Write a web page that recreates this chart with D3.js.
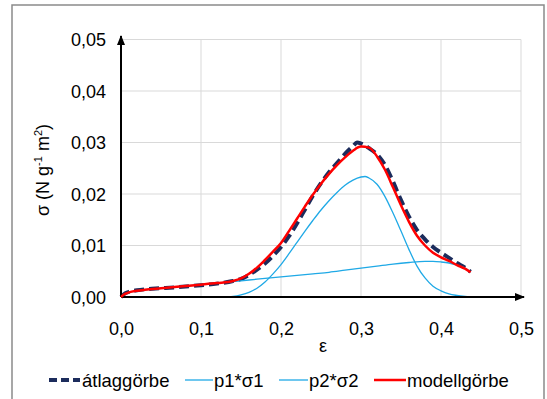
<!DOCTYPE html>
<html><head><meta charset="utf-8">
<script src="https://cdn.jsdelivr.net/npm/d3@7"></script>
<style>
html,body{margin:0;padding:0;background:#fff;}
svg text{font-family:"Liberation Sans",Arial,sans-serif;fill:#000;}
</style></head>
<body>
<svg id="chart" width="547" height="399"></svg>
<script>
// ---- data ----
const xTicks = [0, 0.1, 0.2, 0.3, 0.4, 0.5];
const xTickLabels = ["0,0", "0,1", "0,2", "0,3", "0,4", "0,5"];
const yTicks = [0, 0.01, 0.02, 0.03, 0.04, 0.05];
const yTickLabels = ["0,00", "0,01", "0,02", "0,03", "0,04", "0,05"];
const seriesNames = ["átlaggörbe", "p1*σ1", "p2*σ2", "modellgörbe"];

const epsAvg = [0,0.005,0.01,0.02,0.03,0.05,0.07,0.10,0.12,0.14,0.15,0.16,0.17,0.18,0.19,0.20,0.21,0.22,0.23,0.24,0.25,0.26,0.27,0.28,0.29,0.295,0.30,0.31,0.32,0.33,0.34,0.35,0.36,0.37,0.38,0.39,0.40,0.41,0.42,0.43,0.437];
const avgVals = [0,0.0007,0.0010,0.0013,0.0015,0.0017,0.0019,0.0023,0.0026,0.0031,0.0035,0.0043,0.0053,0.0065,0.0080,0.0097,0.0118,0.0143,0.0170,0.0197,0.0221,0.0242,0.0260,0.0278,0.0293,0.0300,0.0298,0.0289,0.0277,0.0256,0.0224,0.0188,0.0156,0.0130,0.0112,0.0097,0.0086,0.0076,0.0066,0.0057,0.0049];

const epsP1 = [0,0.005,0.01,0.02,0.03,0.05,0.07,0.10,0.12,0.14,0.16,0.18,0.20,0.22,0.24,0.26,0.28,0.30,0.32,0.34,0.36,0.38,0.39,0.40,0.41,0.42,0.43,0.437];
const p1Vals = [0,0.0006,0.0009,0.0012,0.0014,0.0017,0.0020,0.0024,0.0027,0.0030,0.0033,0.0036,0.0039,0.0042,0.0045,0.0048,0.0052,0.0056,0.0060,0.0064,0.0067,0.0069,0.0069,0.0068,0.0066,0.0062,0.0056,0.0048];

const epsP2 = [0,0.13,0.14,0.15,0.16,0.17,0.18,0.19,0.20,0.21,0.22,0.23,0.24,0.25,0.26,0.27,0.28,0.29,0.30,0.305,0.31,0.32,0.33,0.34,0.35,0.36,0.37,0.38,0.39,0.40,0.41,0.42,0.43,0.437];
const p2Vals = [0,0,0.0001,0.0004,0.0009,0.0017,0.0029,0.0045,0.0063,0.0084,0.0106,0.0128,0.0149,0.0169,0.0187,0.0203,0.0217,0.0227,0.0233,0.0234,0.0231,0.0219,0.0195,0.0163,0.0128,0.0092,0.0060,0.0037,0.0021,0.0012,0.0006,0.0003,0.0001,0];

const epsModel = [0,0.005,0.01,0.02,0.03,0.05,0.07,0.10,0.12,0.14,0.15,0.16,0.17,0.18,0.19,0.20,0.21,0.22,0.23,0.24,0.25,0.26,0.27,0.28,0.29,0.30,0.31,0.32,0.33,0.34,0.35,0.36,0.37,0.38,0.39,0.40,0.41,0.42,0.43,0.437];
const modelVals = [0,0.0006,0.0009,0.0012,0.0014,0.0017,0.0020,0.0024,0.0027,0.0031,0.0036,0.0045,0.0057,0.0072,0.0088,0.0105,0.0128,0.0152,0.0176,0.0199,0.0220,0.0239,0.0256,0.0271,0.0284,0.0292,0.0290,0.0273,0.0247,0.0213,0.0178,0.0146,0.0119,0.0100,0.0086,0.0077,0.0070,0.0062,0.0055,0.0048];

// ---- layout ----
const svg = d3.select("#chart");
const FONT = "Liberation Sans, Arial, sans-serif";
const x = d3.scaleLinear().domain([0, 0.5]).range([121, 521]);
const y = d3.scaleLinear().domain([0, 0.05]).range([297, 39.5]);

// outer border
svg.append("rect").attr("x", 12).attr("y", 5).attr("width", 532).attr("height", 400)
  .attr("fill", "none").attr("stroke", "#8a8a8a").attr("stroke-width", 1.5);

// gridlines
const grid = svg.append("g");
grid.selectAll("line.h").data(yTicks.slice(1)).enter().append("line")
  .attr("x1", x(0)).attr("x2", x(0.5)).attr("y1", d => y(d)).attr("y2", d => y(d))
  .attr("stroke", "#d9d9d9").attr("stroke-width", 1);
grid.selectAll("line.v").data(xTicks.slice(1)).enter().append("line")
  .attr("x1", d => x(d)).attr("x2", d => x(d)).attr("y1", y(0)).attr("y2", y(0.05))
  .attr("stroke", "#d9d9d9").attr("stroke-width", 1);

// tick labels via axes
const xAxis = d3.axisBottom(x).tickValues(xTicks).tickSize(0).tickPadding(0)
  .tickFormat((d, i) => xTickLabels[i]);
const gx = svg.append("g").attr("transform", `translate(0,${y(0)})`).call(xAxis);
gx.select(".domain").remove();
gx.selectAll("text").attr("font-size", 18).attr("dy", null).attr("y", 38)
  .attr("font-family", FONT).attr("fill", "#000");

const yAxis = d3.axisLeft(y).tickValues(yTicks).tickSize(0).tickPadding(0)
  .tickFormat((d, i) => yTickLabels[i]);
const gy = svg.append("g").attr("transform", `translate(${x(0)},0)`).call(yAxis);
gy.select(".domain").remove();
gy.selectAll("text").attr("font-size", 18).attr("x", -15).attr("dy", "0.35em")
  .attr("font-family", FONT).attr("fill", "#000");

// axis titles
svg.append("text").attr("x", 323).attr("y", 352).attr("text-anchor", "middle")
  .attr("font-size", 18).text("ε");
const yt = svg.append("text").attr("transform", "translate(49,170) rotate(-90)")
  .attr("text-anchor", "middle").attr("font-size", 18);
yt.append("tspan").text("σ (N g");
yt.append("tspan").attr("font-size", 11).attr("dy", -7).text("-1");
yt.append("tspan").attr("dy", 7).text(" m");
yt.append("tspan").attr("font-size", 11).attr("dy", -7).text("2");
yt.append("tspan").attr("dy", 7).text(")");

// arrow marker
const defs = svg.append("defs");
defs.append("marker").attr("id", "arr").attr("viewBox", "0 0 10 10")
  .attr("refX", 9).attr("refY", 5).attr("markerWidth", 5).attr("markerHeight", 5)
  .attr("markerUnits", "strokeWidth").attr("orient", "auto")
  .append("path").attr("d", "M0,1 L10,5 L0,9 Z").attr("fill", "#000");

const mk = (xs, vs) => xs.map((e, i) => [e, vs[i]]);
const line = d3.line().x(d => x(d[0])).y(d => y(d[1])).curve(d3.curveMonotoneX);

const C_AVG = "#1c2c5c", C_BLUE = "#1fa9e6", C_RED = "#ff0000";

svg.append("path").datum(mk(epsAvg, avgVals)).attr("d", line)
  .attr("fill", "none").attr("stroke", C_AVG).attr("stroke-width", 4)
  .attr("stroke-dasharray", "10,5");
svg.append("path").datum(mk(epsP1, p1Vals)).attr("d", line)
  .attr("fill", "none").attr("stroke", C_BLUE).attr("stroke-width", 1.3);
svg.append("path").datum(mk(epsP2, p2Vals)).attr("d", line)
  .attr("fill", "none").attr("stroke", C_BLUE).attr("stroke-width", 1.3);

// axes with arrows
svg.append("line").attr("x1", x(0)).attr("y1", y(0)).attr("x2", 524).attr("y2", y(0))
  .attr("stroke", "#000").attr("stroke-width", 2).attr("marker-end", "url(#arr)");
svg.append("line").attr("x1", x(0)).attr("y1", y(0)).attr("x2", x(0)).attr("y2", 36)
  .attr("stroke", "#000").attr("stroke-width", 2).attr("marker-end", "url(#arr)");

svg.append("path").datum(mk(epsModel, modelVals)).attr("d", line)
  .attr("fill", "none").attr("stroke", C_RED).attr("stroke-width", 2.5);

// legend
const legend = [
  {name: seriesNames[0], color: C_AVG, w: 4, dash: "8,4", x1: 49, x2: 80, tx: 82},
  {name: seriesNames[1], color: C_BLUE, w: 1.3, dash: null, x1: 185, x2: 213, tx: 214},
  {name: seriesNames[2], color: C_BLUE, w: 1.3, dash: null, x1: 279, x2: 308, tx: 309},
  {name: seriesNames[3], color: C_RED, w: 2.5, dash: null, x1: 374, x2: 406, tx: 407}
];
const lg = svg.append("g");
legend.forEach(l => {
  const ln = lg.append("line").attr("x1", l.x1).attr("x2", l.x2).attr("y1", 380).attr("y2", 380)
    .attr("stroke", l.color).attr("stroke-width", l.w);
  if (l.dash) ln.attr("stroke-dasharray", l.dash);
  lg.append("text").attr("x", l.tx).attr("y", 386.5).attr("font-size", 18.5).text(l.name);
});
</script>
</body></html>
